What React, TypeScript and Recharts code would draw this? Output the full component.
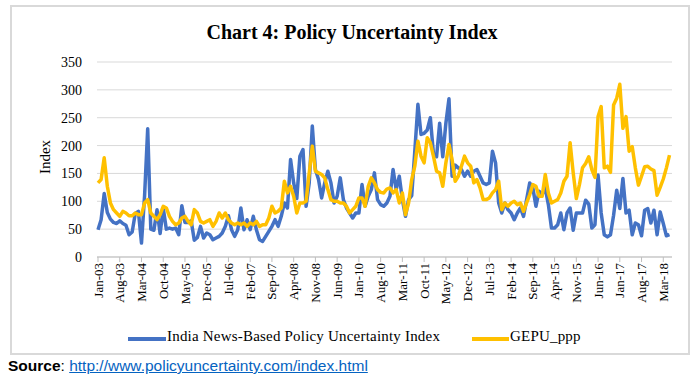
import React from "react";
import { LineChart, Line, CartesianGrid, XAxis, YAxis } from "recharts";

// Jan-03 .. May-18, monthly
const monthNames = ["Jan", "Feb", "Mar", "Apr", "May", "Jun", "Jul", "Aug", "Sep", "Oct", "Nov", "Dec"];
const categories: string[] = [];
for (let yr = 2003; yr <= 2018; yr++) {
  for (let m = 0; m < 12; m++) {
    if (categories.length < 185) categories.push(`${monthNames[m]}-${String(yr % 100).padStart(2, "0")}`);
  }
}

const india = [
  49, 67, 114, 80, 68, 62, 60, 65, 60, 57, 40, 45,
  78, 82, 25, 110, 230, 50, 48, 85, 42, 88, 50, 52,
  50, 52, 40, 92, 62, 62, 65, 30, 35, 55, 34, 43,
  40, 31, 34, 37, 43, 55, 74, 49, 37, 49, 88, 49,
  67, 49, 73, 49, 31, 28, 37, 46, 55, 67, 55, 73,
  97, 88, 175, 133, 105, 181, 193, 91, 133, 235, 157, 139,
  106, 133, 154, 133, 97, 109, 142, 103, 88, 79, 70, 79,
  79, 130, 91, 109, 121, 151, 103, 94, 91, 97, 109, 157,
  121, 145, 103, 73, 103, 110, 190, 274, 220, 222, 228, 250,
  185, 180, 240, 180, 240, 284, 145, 165, 160, 157, 145, 154,
  145, 154, 157, 145, 133, 130, 133, 190, 169, 97, 79, 97,
  85, 79, 67, 79, 88, 73, 103, 133, 124, 91, 118, 112,
  124, 94, 52, 52, 58, 79, 49, 79, 88, 48, 79, 79,
  79, 102, 95, 52, 58, 147, 79, 40, 36, 40, 75, 120,
  87, 141, 79, 84, 40, 61, 58, 38, 84, 87, 61, 84,
  40, 81, 60, 38, 40,
];

const gepu = [
  133, 139, 178, 127, 97, 85, 79, 73, 82, 79, 74, 74,
  79, 76, 76, 97, 103, 79, 73, 67, 76, 91, 88, 73,
  64, 58, 61, 70, 73, 64, 58, 85, 79, 64, 61, 64,
  67, 55, 64, 79, 70, 79, 67, 61, 58, 61, 58, 61,
  55, 61, 58, 64, 55, 58, 58, 70, 91, 79, 82, 88,
  136, 115, 127, 109, 79, 97, 97, 100, 151, 199, 154, 151,
  148, 142, 121, 103, 100, 100, 97, 97, 91, 79, 85, 91,
  106, 106, 91, 127, 142, 133, 121, 116, 115, 122, 124, 115,
  121, 97, 115, 76, 97, 139, 163, 208, 181, 169, 214, 205,
  181, 154, 151, 127, 169, 202, 175, 136, 145, 163, 181, 169,
  163, 133, 139, 124, 103, 103, 106, 115, 121, 136, 85, 97,
  91, 97, 100, 94, 97, 82, 97, 112, 130, 127, 109, 109,
  148, 115, 97, 100, 103, 115, 136, 145, 205, 151, 105, 130,
  160, 168, 180, 157, 143, 252, 270, 160, 163, 152, 273, 285,
  310, 231, 252, 190, 198, 160, 129, 145, 162, 163, 158, 155,
  111, 125, 140, 160, 183,
];

const yTicks = [0, 50, 100, 150, 200, 250, 300, 350];

const data = categories.map((month, i) => ({ month, india: india[i], gepu: gepu[i] }));

const serif = "'Liberation Serif', 'Times New Roman', serif";

const MonthTick = (props: any) => {
  const { x, y, payload } = props;
  return (
    <text
      transform={`translate(${x},${y - 1}) rotate(-90)`}
      textAnchor="end"
      dy="0.35em"
      fontSize={13}
      fill="#000"
      fontFamily={serif}
    >
      {payload.value}
    </text>
  );
};

export default function App() {
  return (
    <div style={{ position: "absolute", left: 0, top: 0, width: 697, height: 380, background: "#fff", fontFamily: serif }}>
      <div
        style={{
          position: "absolute",
          left: 10,
          top: 5,
          width: 676,
          height: 346,
          border: "2px solid #d9d9d9",
        }}
      />
      <div
        style={{
          position: "absolute",
          top: 21,
          left: 0,
          width: 704,
          textAlign: "center",
          fontWeight: "bold",
          fontSize: 20,
          color: "#000",
        }}
      >
        Chart 4: Policy Uncertainty Index
      </div>
      <div
        style={{
          position: "absolute",
          left: 45,
          top: 157,
          transform: "translate(-50%, -50%) rotate(-90deg)",
          fontSize: 15,
          color: "#000",
          whiteSpace: "nowrap",
        }}
      >
        Index
      </div>
      <div style={{ position: "absolute", left: 0, top: 0 }}>
        <LineChart width={697} height={320} data={data} margin={{ top: 62, right: 25, bottom: 13, left: 0 }}>
          <CartesianGrid vertical={false} stroke="#d9d9d9" />
          <XAxis
            dataKey="month"
            interval={6}
            height={50}
            tickSize={5}
            padding={{ left: 1, right: 2.5 }}
            axisLine={{ stroke: "#bfbfbf" }}
            tickLine={{ stroke: "#bfbfbf" }}
            tick={MonthTick}
          />
          <YAxis
            width={97}
            domain={[0, 350]}
            ticks={yTicks}
            axisLine={false}
            tickLine={false}
            tickMargin={9}
            tick={{ fontSize: 14, fill: "#000", fontFamily: serif }}
          />
          <Line
            type="linear"
            dataKey="india"
            stroke="#4472C4"
            strokeWidth={3.5}
            dot={false}
            strokeLinejoin="round"
            isAnimationActive={false}
          />
          <Line
            type="linear"
            dataKey="gepu"
            stroke="#FFC000"
            strokeWidth={3.5}
            dot={false}
            strokeLinejoin="round"
            isAnimationActive={false}
          />
        </LineChart>
      </div>
      <div style={{ position: "absolute", top: 0, left: 0, width: 697, height: 380, fontSize: 15, color: "#000", letterSpacing: 0.2 }}>
        <span style={{ position: "absolute", left: 128, top: 337, width: 38, height: 4, background: "#4472C4" }} />
        <span style={{ position: "absolute", left: 167, top: 328, whiteSpace: "nowrap" }}>India News-Based Policy Uncertainty Index</span>
        <span style={{ position: "absolute", left: 472, top: 337, width: 37, height: 4, background: "#FFC000" }} />
        <span style={{ position: "absolute", left: 510, top: 328, whiteSpace: "nowrap" }}>GEPU_ppp</span>
      </div>
      <div
        style={{
          position: "absolute",
          left: 8,
          top: 357,
          fontFamily: "'Liberation Sans', Arial, sans-serif",
          fontSize: 15.5,
          color: "#000",
          whiteSpace: "nowrap",
        }}
      >
        <b>Source</b>:{" "}
        <span style={{ color: "#0563C1", textDecoration: "underline" }}>http://www.policyuncertainty.com/index.html</span>
      </div>
    </div>
  );
}
